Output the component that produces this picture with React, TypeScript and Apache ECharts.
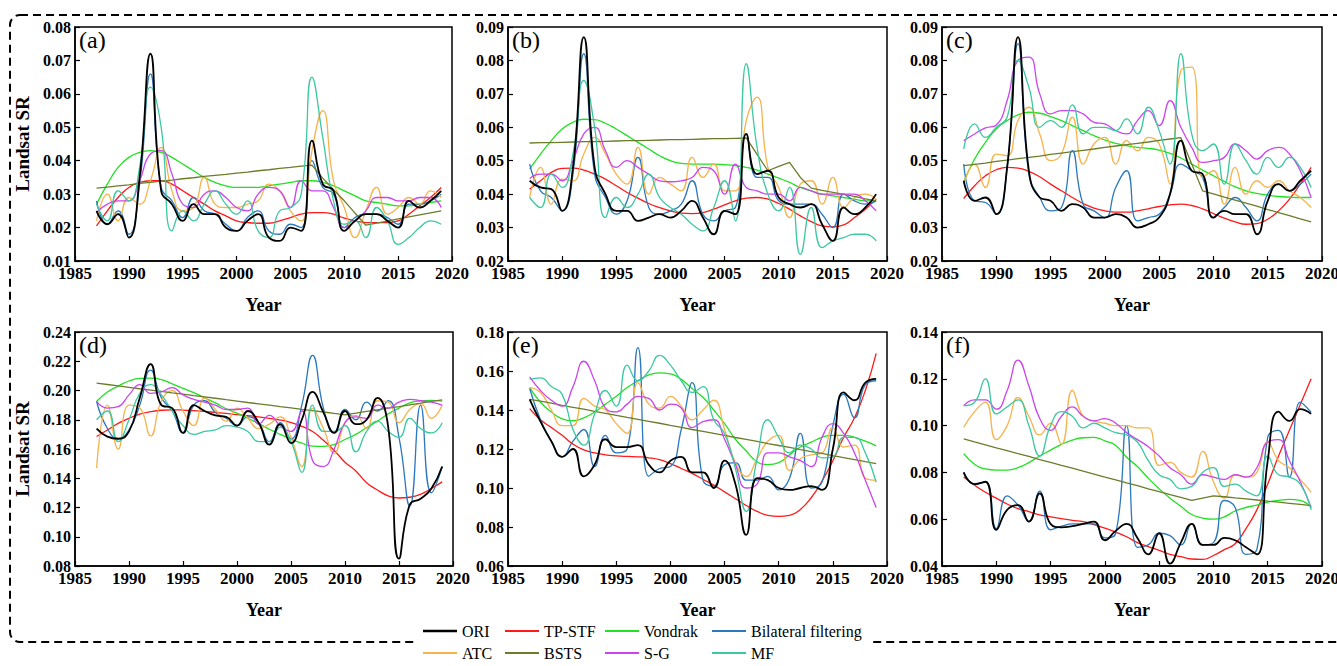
import React, { useEffect, useRef } from "react";
import * as echarts from "echarts";

const YEARS = [1987, 1988, 1989, 1990, 1991, 1992, 1993, 1994, 1995, 1996, 1997, 1998, 1999, 2000, 2001, 2002, 2003, 2004, 2005, 2006, 2007, 2008, 2009, 2010, 2011, 2012, 2013, 2014, 2015, 2016, 2017, 2018, 2019];

const SERIES_NAMES = ["ORI", "TP-STF", "Vondrak", "Bilateral filtering", "ATC", "BSTS", "S-G", "MF"];
const SERIES_COLORS = ["#000000", "#ff1a1a", "#22e022", "#2a78bd", "#f7b34c", "#6b7d2a", "#cc44ee", "#3cc8a0"];

const PANEL_LABELS = ["(a)", "(b)", "(c)", "(d)", "(e)", "(f)"];
const Y_MIN = [0.01, 0.02, 0.02, 0.08, 0.06, 0.04];
const Y_MAX = [0.08, 0.09, 0.09, 0.24, 0.18, 0.14];
const Y_STEP = [0.01, 0.01, 0.01, 0.02, 0.02, 0.02];
const X_MIN = 1985;
const X_MAX = 2020;
const X_STEP = 5;

// ---- panel (a)
const oriA = [0.025, 0.021, 0.024, 0.017, 0.035, 0.072, 0.031, 0.027, 0.022, 0.027, 0.024, 0.024, 0.020, 0.019, 0.022, 0.024, 0.017, 0.016, 0.020, 0.019, 0.046, 0.033, 0.031, 0.019, 0.022, 0.024, 0.024, 0.022, 0.020, 0.028, 0.026, 0.028, 0.031];
const tpA = [0.0205, 0.025, 0.029, 0.032, 0.0335, 0.034, 0.034, 0.033, 0.031, 0.029, 0.027, 0.025, 0.0235, 0.022, 0.0215, 0.0213, 0.0213, 0.022, 0.023, 0.024, 0.0245, 0.0245, 0.024, 0.0228, 0.022, 0.0215, 0.0215, 0.0215, 0.022, 0.024, 0.0265, 0.029, 0.032];
const vondA = [0.027, 0.033, 0.038, 0.041, 0.0425, 0.043, 0.0425, 0.041, 0.039, 0.037, 0.035, 0.0335, 0.0325, 0.032, 0.032, 0.032, 0.0325, 0.033, 0.0335, 0.034, 0.034, 0.0335, 0.0325, 0.031, 0.0295, 0.028, 0.0275, 0.027, 0.0265, 0.0265, 0.027, 0.0275, 0.028];
const blueA = [0.028, 0.021, 0.025, 0.018, 0.033, 0.066, 0.032, 0.028, 0.023, 0.029, 0.025, 0.024, 0.021, 0.019, 0.023, 0.025, 0.019, 0.018, 0.021, 0.020, 0.040, 0.032, 0.030, 0.020, 0.023, 0.024, 0.024, 0.023, 0.021, 0.027, 0.027, 0.028, 0.030];
const atcA = [0.022, 0.030, 0.022, 0.029, 0.027, 0.034, 0.044, 0.031, 0.025, 0.026, 0.035, 0.027, 0.026, 0.026, 0.027, 0.028, 0.033, 0.031, 0.025, 0.022, 0.043, 0.055, 0.034, 0.026, 0.017, 0.025, 0.032, 0.024, 0.026, 0.029, 0.027, 0.031, 0.029];
const bstsA = [0.0318, 0.0321, 0.0325, 0.0328, 0.0332, 0.0335, 0.0339, 0.0342, 0.0346, 0.0349, 0.0353, 0.0356, 0.0359, 0.0363, 0.0366, 0.0370, 0.0373, 0.0377, 0.0380, 0.0384, 0.0387, 0.0348, 0.0313, 0.028, 0.0243, 0.0207, 0.0213, 0.0219, 0.0226, 0.0232, 0.0238, 0.0244, 0.0250];
const sgA = [0.0245, 0.027, 0.028, 0.028, 0.034, 0.042, 0.043, 0.036, 0.027, 0.026, 0.030, 0.031, 0.029, 0.026, 0.025, 0.030, 0.032, 0.031, 0.026, 0.034, 0.031, 0.031, 0.026, 0.020, 0.022, 0.025, 0.029, 0.029, 0.028, 0.028, 0.029, 0.029, 0.026];
const mfA = [0.027, 0.022, 0.031, 0.028, 0.038, 0.062, 0.050, 0.019, 0.025, 0.022, 0.027, 0.031, 0.027, 0.024, 0.028, 0.019, 0.017, 0.025, 0.026, 0.030, 0.065, 0.047, 0.028, 0.021, 0.022, 0.017, 0.026, 0.022, 0.015, 0.017, 0.020, 0.022, 0.021];

// ---- panel (b)
const oriB = [0.044, 0.042, 0.0415, 0.035, 0.048, 0.087, 0.048, 0.040, 0.035, 0.035, 0.032, 0.033, 0.034, 0.033, 0.035, 0.038, 0.033, 0.028, 0.035, 0.034, 0.058, 0.046, 0.047, 0.039, 0.037, 0.036, 0.037, 0.031, 0.026, 0.036, 0.034, 0.036, 0.040];
const tpB = [0.0415, 0.044, 0.0465, 0.0477, 0.0478, 0.0472, 0.046, 0.0445, 0.0425, 0.0405, 0.0388, 0.0372, 0.036, 0.035, 0.0343, 0.0342, 0.0345, 0.0355, 0.0368, 0.038, 0.0388, 0.039, 0.0385, 0.0372, 0.0355, 0.0335, 0.0318, 0.0305, 0.0302, 0.0308, 0.033, 0.0355, 0.0385];
const vondB = [0.0475, 0.052, 0.056, 0.0595, 0.0615, 0.0624, 0.0623, 0.0612, 0.0595, 0.0575, 0.0555, 0.0535, 0.0515, 0.050, 0.0492, 0.049, 0.049, 0.049, 0.0488, 0.0485, 0.048, 0.0472, 0.046, 0.0448, 0.0435, 0.042, 0.041, 0.040, 0.0395, 0.039, 0.0385, 0.038, 0.038];
const blueB = [0.049, 0.041, 0.039, 0.035, 0.046, 0.082, 0.046, 0.039, 0.034, 0.038, 0.051, 0.036, 0.034, 0.035, 0.037, 0.044, 0.034, 0.032, 0.035, 0.036, 0.058, 0.045, 0.045, 0.038, 0.037, 0.037, 0.037, 0.034, 0.030, 0.040, 0.038, 0.037, 0.038];
const atcB = [0.039, 0.048, 0.037, 0.0445, 0.044, 0.052, 0.057, 0.052, 0.046, 0.043, 0.054, 0.040, 0.045, 0.043, 0.041, 0.051, 0.045, 0.049, 0.041, 0.041, 0.062, 0.069, 0.048, 0.042, 0.033, 0.043, 0.044, 0.037, 0.045, 0.036, 0.039, 0.040, 0.0385];
const bstsB = [0.0553, 0.0554, 0.0554, 0.0555, 0.0556, 0.0557, 0.0557, 0.0558, 0.0559, 0.0560, 0.0560, 0.0561, 0.0562, 0.0563, 0.0563, 0.0564, 0.0565, 0.0566, 0.0566, 0.0567, 0.0568, 0.0519, 0.047, 0.0483, 0.0495, 0.045, 0.0418, 0.0411, 0.0405, 0.0399, 0.0393, 0.0386, 0.038];
const sgB = [0.0447, 0.046, 0.046, 0.044, 0.050, 0.058, 0.060, 0.053, 0.048, 0.050, 0.048, 0.046, 0.044, 0.0437, 0.044, 0.045, 0.048, 0.047, 0.040, 0.049, 0.042, 0.041, 0.040, 0.040, 0.038, 0.042, 0.041, 0.040, 0.040, 0.040, 0.040, 0.038, 0.035];
const mfB = [0.039, 0.036, 0.046, 0.042, 0.052, 0.074, 0.060, 0.033, 0.039, 0.036, 0.040, 0.046, 0.039, 0.036, 0.034, 0.031, 0.029, 0.036, 0.044, 0.032, 0.079, 0.054, 0.040, 0.035, 0.042, 0.022, 0.036, 0.024, 0.026, 0.027, 0.028, 0.028, 0.026];

// ---- panel (c)
const oriC = [0.044, 0.038, 0.039, 0.034, 0.048, 0.087, 0.047, 0.039, 0.038, 0.035, 0.037, 0.036, 0.033, 0.033, 0.034, 0.033, 0.030, 0.031, 0.033, 0.040, 0.056, 0.047, 0.046, 0.033, 0.035, 0.034, 0.034, 0.028, 0.038, 0.043, 0.041, 0.044, 0.047];
const tpC = [0.0387, 0.0425, 0.0455, 0.0473, 0.048, 0.0478, 0.0468, 0.0452, 0.043, 0.041, 0.039, 0.0372, 0.0358, 0.035, 0.0346, 0.0346, 0.035, 0.0356, 0.0363, 0.0368, 0.037, 0.0366, 0.0356, 0.0342, 0.0328, 0.0317, 0.031, 0.0312, 0.0325, 0.035, 0.0385, 0.043, 0.048];
const vondC = [0.0437, 0.0505, 0.0555, 0.0595, 0.062, 0.0637, 0.0645, 0.0642, 0.0632, 0.062, 0.0605, 0.059, 0.0575, 0.0562, 0.0552, 0.0545, 0.054, 0.0537, 0.0532, 0.0522, 0.0508, 0.049, 0.0472, 0.0455, 0.0438, 0.0422, 0.041, 0.0402, 0.0397, 0.0393, 0.0391, 0.039, 0.039];
const blueC = [0.049, 0.038, 0.0375, 0.034, 0.048, 0.085, 0.046, 0.039, 0.035, 0.036, 0.053, 0.037, 0.035, 0.033, 0.042, 0.047, 0.032, 0.033, 0.034, 0.040, 0.049, 0.047, 0.045, 0.033, 0.036, 0.039, 0.036, 0.032, 0.040, 0.043, 0.041, 0.043, 0.046];
const atcC = [0.043, 0.049, 0.042, 0.052, 0.0515, 0.062, 0.066, 0.058, 0.050, 0.052, 0.063, 0.049, 0.055, 0.057, 0.049, 0.056, 0.053, 0.057, 0.055, 0.043, 0.077, 0.078, 0.045, 0.047, 0.037, 0.048, 0.040, 0.044, 0.042, 0.044, 0.041, 0.039, 0.036];
const bstsC = [0.0485, 0.0489, 0.0493, 0.0498, 0.0502, 0.0506, 0.0510, 0.0514, 0.0519, 0.0523, 0.0527, 0.0531, 0.0535, 0.0540, 0.0544, 0.0548, 0.0552, 0.0556, 0.0561, 0.0565, 0.0569, 0.049, 0.041, 0.0401, 0.0391, 0.0382, 0.0373, 0.0364, 0.0354, 0.0345, 0.0336, 0.0326, 0.0317];
const sgC = [0.056, 0.058, 0.0598, 0.0607, 0.068, 0.080, 0.081, 0.070, 0.064, 0.065, 0.065, 0.064, 0.0615, 0.061, 0.059, 0.058, 0.062, 0.065, 0.0605, 0.068, 0.060, 0.054, 0.0495, 0.050, 0.051, 0.055, 0.053, 0.0505, 0.053, 0.054, 0.052, 0.047, 0.039];
const mfC = [0.0535, 0.061, 0.057, 0.060, 0.063, 0.080, 0.072, 0.060, 0.062, 0.060, 0.0667, 0.058, 0.060, 0.060, 0.059, 0.0625, 0.058, 0.066, 0.059, 0.049, 0.082, 0.058, 0.053, 0.055, 0.043, 0.055, 0.050, 0.046, 0.051, 0.048, 0.051, 0.048, 0.042];

// ---- panel (d)
const oriD = [0.174, 0.1685, 0.167, 0.172, 0.195, 0.218, 0.190, 0.188, 0.171, 0.190, 0.186, 0.183, 0.182, 0.176, 0.186, 0.178, 0.163, 0.177, 0.164, 0.180, 0.199, 0.185, 0.171, 0.186, 0.177, 0.180, 0.195, 0.175, 0.085, 0.122, 0.126, 0.133, 0.148];
const tpD = [0.1685, 0.173, 0.1775, 0.181, 0.1838, 0.1855, 0.1865, 0.1868, 0.1866, 0.1862, 0.1857, 0.185, 0.1843, 0.1835, 0.1828, 0.182, 0.181, 0.1798, 0.178, 0.1755, 0.172, 0.166, 0.159, 0.151, 0.145, 0.137, 0.132, 0.128, 0.1265, 0.127, 0.129, 0.133, 0.1375];
const vondD = [0.1925, 0.199, 0.203, 0.2065, 0.2083, 0.2085, 0.2075, 0.2045, 0.2015, 0.1985, 0.195, 0.1915, 0.1875, 0.1845, 0.181, 0.1775, 0.1735, 0.170, 0.1668, 0.164, 0.162, 0.1618, 0.163, 0.1665, 0.170, 0.1745, 0.179, 0.184, 0.188, 0.1915, 0.193, 0.1932, 0.1928];
const blueD = [0.1925, 0.174, 0.167, 0.173, 0.190, 0.214, 0.195, 0.186, 0.171, 0.190, 0.193, 0.185, 0.181, 0.176, 0.182, 0.178, 0.165, 0.178, 0.167, 0.190, 0.224, 0.188, 0.171, 0.187, 0.180, 0.192, 0.186, 0.193, 0.168, 0.121, 0.190, 0.130, 0.148];
const atcD = [0.147, 0.190, 0.160, 0.190, 0.188, 0.169, 0.193, 0.200, 0.186, 0.176, 0.195, 0.187, 0.179, 0.188, 0.181, 0.174, 0.177, 0.182, 0.168, 0.148, 0.188, 0.174, 0.157, 0.178, 0.183, 0.174, 0.193, 0.192, 0.178, 0.187, 0.191, 0.181, 0.190];
const bstsD = [0.205, 0.2041, 0.2031, 0.2022, 0.2012, 0.2003, 0.1994, 0.1984, 0.1975, 0.1965, 0.1956, 0.1947, 0.1937, 0.1928, 0.1918, 0.1909, 0.19, 0.189, 0.1881, 0.1871, 0.1862, 0.1853, 0.1843, 0.1834, 0.1845, 0.1857, 0.1868, 0.1879, 0.189, 0.1902, 0.1913, 0.1925, 0.1936];
const sgD = [0.1925, 0.188, 0.189, 0.197, 0.204, 0.198, 0.199, 0.202, 0.197, 0.194, 0.192, 0.190, 0.187, 0.187, 0.188, 0.177, 0.183, 0.176, 0.172, 0.186, 0.152, 0.148, 0.160, 0.178, 0.182, 0.181, 0.190, 0.188, 0.192, 0.194, 0.193, 0.192, 0.190];
const mfD = [0.180, 0.186, 0.165, 0.180, 0.198, 0.204, 0.197, 0.186, 0.176, 0.170, 0.172, 0.173, 0.176, 0.175, 0.172, 0.165, 0.165, 0.175, 0.165, 0.144, 0.190, 0.172, 0.172, 0.176, 0.158, 0.172, 0.179, 0.172, 0.168, 0.181, 0.174, 0.171, 0.178];

// ---- panel (e)
const oriE = [0.1455, 0.134, 0.124, 0.116, 0.120, 0.106, 0.112, 0.125, 0.121, 0.121, 0.122, 0.112, 0.108, 0.114, 0.116, 0.108, 0.108, 0.100, 0.114, 0.102, 0.076, 0.105, 0.104, 0.100, 0.099, 0.100, 0.101, 0.099, 0.120, 0.149, 0.145, 0.154, 0.156];
const tpE = [0.1407, 0.135, 0.131, 0.127, 0.1225, 0.1195, 0.118, 0.117, 0.1165, 0.1162, 0.116, 0.1155, 0.1145, 0.1125, 0.110, 0.1075, 0.1045, 0.1015, 0.098, 0.0945, 0.091, 0.088, 0.086, 0.0855, 0.086, 0.089, 0.095, 0.1036, 0.114, 0.126, 0.136, 0.150, 0.169];
const vondE = [0.1515, 0.144, 0.139, 0.1355, 0.1345, 0.136, 0.139, 0.143, 0.147, 0.1515, 0.155, 0.158, 0.159, 0.1585, 0.1557, 0.151, 0.1465, 0.140, 0.133, 0.125, 0.119, 0.1135, 0.112, 0.113, 0.117, 0.121, 0.1235, 0.126, 0.127, 0.127, 0.126, 0.124, 0.1216];
const blueE = [0.151, 0.135, 0.124, 0.116, 0.124, 0.130, 0.111, 0.127, 0.118, 0.120, 0.172, 0.106, 0.110, 0.111, 0.130, 0.154, 0.104, 0.101, 0.112, 0.113, 0.104, 0.104, 0.106, 0.099, 0.105, 0.128, 0.100, 0.103, 0.132, 0.148, 0.136, 0.153, 0.155];
const atcE = [0.1515, 0.149, 0.140, 0.132, 0.132, 0.146, 0.142, 0.140, 0.133, 0.128, 0.154, 0.143, 0.141, 0.147, 0.142, 0.135, 0.140, 0.145, 0.130, 0.113, 0.106, 0.115, 0.124, 0.127, 0.109, 0.115, 0.117, 0.118, 0.131, 0.121, 0.122, 0.105, 0.104];
const bstsE = [0.1455, 0.1445, 0.1435, 0.1424, 0.1414, 0.1404, 0.1393, 0.1383, 0.1373, 0.1362, 0.1352, 0.1342, 0.1332, 0.1321, 0.1311, 0.1300, 0.1290, 0.1280, 0.1270, 0.1259, 0.1249, 0.1239, 0.1228, 0.1218, 0.1208, 0.1197, 0.1187, 0.1177, 0.1166, 0.1156, 0.1146, 0.1135, 0.1125];
const sgE = [0.157, 0.150, 0.145, 0.142, 0.152, 0.165, 0.155, 0.141, 0.139, 0.143, 0.147, 0.146, 0.140, 0.143, 0.141, 0.131, 0.134, 0.135, 0.125, 0.112, 0.100, 0.102, 0.118, 0.118, 0.116, 0.114, 0.111, 0.126, 0.133, 0.128, 0.118, 0.104, 0.090];
const mfE = [0.1557, 0.1565, 0.152, 0.148, 0.130, 0.122, 0.138, 0.150, 0.142, 0.163, 0.155, 0.160, 0.168, 0.163, 0.155, 0.149, 0.152, 0.135, 0.128, 0.110, 0.088, 0.115, 0.135, 0.126, 0.118, 0.122, 0.120, 0.1155, 0.116, 0.126, 0.126, 0.118, 0.103];

// ---- panel (f)
const oriF = [0.080, 0.075, 0.076, 0.0555, 0.064, 0.066, 0.059, 0.071, 0.058, 0.0565, 0.057, 0.058, 0.059, 0.051, 0.055, 0.058, 0.052, 0.045, 0.054, 0.041, 0.050, 0.058, 0.049, 0.049, 0.052, 0.051, 0.048, 0.045, 0.085, 0.106, 0.102, 0.107, 0.105];
const tpF = [0.078, 0.0745, 0.0715, 0.069, 0.0665, 0.0645, 0.0632, 0.0618, 0.061, 0.0602, 0.0595, 0.059, 0.0577, 0.0562, 0.0545, 0.0525, 0.050, 0.0483, 0.0467, 0.045, 0.044, 0.043, 0.0428, 0.0445, 0.047, 0.0495, 0.056, 0.064, 0.075, 0.087, 0.098, 0.109, 0.12];
const vondF = [0.088, 0.0835, 0.0815, 0.081, 0.081, 0.082, 0.0842, 0.087, 0.0895, 0.092, 0.0938, 0.0948, 0.095, 0.0935, 0.0915, 0.0865, 0.0825, 0.0775, 0.073, 0.069, 0.0655, 0.062, 0.0605, 0.060, 0.061, 0.0635, 0.065, 0.066, 0.0673, 0.068, 0.0685, 0.068, 0.065];
const blueF = [0.080, 0.075, 0.076, 0.056, 0.070, 0.066, 0.059, 0.072, 0.0555, 0.057, 0.058, 0.058, 0.058, 0.052, 0.054, 0.100, 0.048, 0.049, 0.054, 0.053, 0.049, 0.058, 0.049, 0.050, 0.068, 0.065, 0.045, 0.047, 0.095, 0.098, 0.078, 0.110, 0.1057];
const atcF = [0.0993, 0.106, 0.110, 0.094, 0.100, 0.112, 0.104, 0.096, 0.101, 0.092, 0.115, 0.104, 0.102, 0.101, 0.100, 0.100, 0.099, 0.099, 0.083, 0.0843, 0.080, 0.078, 0.089, 0.076, 0.069, 0.079, 0.078, 0.080, 0.093, 0.085, 0.082, 0.077, 0.0715];
const bstsF = [0.0943, 0.093, 0.0918, 0.0905, 0.0893, 0.088, 0.0868, 0.0855, 0.0843, 0.083, 0.0818, 0.0805, 0.0793, 0.078, 0.0768, 0.0755, 0.0743, 0.073, 0.0718, 0.0705, 0.0693, 0.068, 0.069, 0.070, 0.0696, 0.0691, 0.0687, 0.0682, 0.0677, 0.0673, 0.0668, 0.0663, 0.0658];
const sgF = [0.1085, 0.111, 0.111, 0.107, 0.115, 0.128, 0.117, 0.103, 0.098, 0.104, 0.108, 0.104, 0.102, 0.103, 0.101, 0.097, 0.094, 0.091, 0.087, 0.082, 0.079, 0.075, 0.079, 0.078, 0.077, 0.079, 0.078, 0.082, 0.093, 0.094, 0.085, 0.076, 0.065];
const mfF = [0.1085, 0.110, 0.120, 0.105, 0.108, 0.111, 0.100, 0.087, 0.100, 0.106, 0.104, 0.099, 0.101, 0.099, 0.097, 0.096, 0.093, 0.085, 0.079, 0.077, 0.073, 0.074, 0.080, 0.082, 0.074, 0.075, 0.072, 0.070, 0.087, 0.079, 0.078, 0.075, 0.064];

const PANEL_SERIES = [
  [oriA, tpA, vondA, blueA, atcA, bstsA, sgA, mfA],
  [oriB, tpB, vondB, blueB, atcB, bstsB, sgB, mfB],
  [oriC, tpC, vondC, blueC, atcC, bstsC, sgC, mfC],
  [oriD, tpD, vondD, blueD, atcD, bstsD, sgD, mfD],
  [oriE, tpE, vondE, blueE, atcE, bstsE, sgE, mfE],
  [oriF, tpF, vondF, blueF, atcF, bstsF, sgF, mfF],
];

const FONT = "Liberation Serif";

const GRID_POS = [
  { left: 75, top: 27, width: 377, height: 234 },
  { left: 508, top: 27, width: 379, height: 234 },
  { left: 942, top: 27, width: 380, height: 234 },
  { left: 75, top: 332, width: 378, height: 234 },
  { left: 508, top: 332, width: 379, height: 234 },
  { left: 942, top: 332, width: 380, height: 234 },
];

const LEGEND_COLS = [423, 505, 605, 712];
const LEGEND_ROWS = [623, 645];

function buildOption() {
  const grid = GRID_POS.map((g) => ({
    ...g,
    show: true,
    borderColor: "#000",
    borderWidth: 1.5,
    backgroundColor: "transparent",
    containLabel: false,
    outerBoundsMode: "none",
  }));

  const axisLine = { show: true, onZero: false, lineStyle: { color: "#000", width: 1.5 } };
  const axisTick = { show: true, inside: true, length: 5, lineStyle: { color: "#000", width: 1.2 } };

  const xAxis = GRID_POS.map((_, i) => ({
    gridIndex: i,
    type: "value",
    min: X_MIN,
    max: X_MAX,
    interval: X_STEP,
    name: "Year",
    nameLocation: "middle",
    nameGap: 35,
    nameMoveOverlap: false,
    nameTextStyle: { fontFamily: FONT, fontWeight: "bold", fontSize: 18, color: "#000" },
    axisLine,
    axisTick,
    axisLabel: {
      fontFamily: FONT,
      fontWeight: "bold",
      fontSize: 17,
      color: "#000",
      margin: 4,
      showMinLabel: true,
      showMaxLabel: true,
      hideOverlap: false,
      formatter: (v: number) => String(v),
    },
    splitLine: { show: false },
  }));

  const yAxis = GRID_POS.map((_, i) => ({
    gridIndex: i,
    type: "value",
    min: Y_MIN[i],
    max: Y_MAX[i],
    interval: Y_STEP[i],
    name: i % 3 === 0 ? "Landsat SR" : "",
    nameLocation: "middle",
    nameGap: 43,
    nameMoveOverlap: false,
    nameTextStyle: { fontFamily: FONT, fontWeight: "bold", fontSize: 19, color: "#000" },
    axisLine,
    axisTick,
    axisLabel: {
      fontFamily: FONT,
      fontWeight: "bold",
      fontSize: 16,
      color: "#000",
      margin: 4,
      showMinLabel: true,
      showMaxLabel: true,
      hideOverlap: false,
      formatter: (v: number) => v.toFixed(2),
    },
    splitLine: { show: false },
  }));

  const series: any[] = [];
  PANEL_SERIES.forEach((list, p) => {
    list.forEach((arr, k) => {
      series.push({
        name: SERIES_NAMES[k],
        type: "line",
        xAxisIndex: p,
        yAxisIndex: p,
        data: YEARS.map((yr, j) => [yr, arr[j]]),
        smooth: SERIES_NAMES[k] === "BSTS" ? false : 0.5,
        showSymbol: false,
        symbol: "none",
        color: SERIES_COLORS[k],
        lineStyle: { color: SERIES_COLORS[k], width: k === 0 ? 1.8 : 1.3 },
        z: k === 0 ? 3 : 2,
      });
    });
  });

  const legend = SERIES_NAMES.map((n, k) => ({
    data: [n],
    left: LEGEND_COLS[k % 4],
    top: LEGEND_ROWS[Math.floor(k / 4)],
    orient: "horizontal",
    icon: "rect",
    itemWidth: 34,
    itemHeight: k === 0 ? 2.5 : 2,
    itemGap: 0,
    padding: 0,
    selectedMode: false,
    textStyle: { fontFamily: FONT, fontSize: 16, color: "#000" },
  }));

  const title = PANEL_LABELS.map((t, i) => ({
    text: t,
    left: GRID_POS[i].left + 4,
    top: GRID_POS[i].top + 1,
    padding: 0,
    textStyle: { fontFamily: FONT, fontSize: 24, fontWeight: "normal", color: "#000" },
  }));

  return {
    animation: false,
    backgroundColor: "#fff",
    title,
    legend,
    grid,
    xAxis,
    yAxis,
    series,
    graphic: {
      elements: [
        {
          type: "rect",
          silent: true,
          z: 0,
          shape: { x: 10, y: 15, width: 1360, height: 627, r: 10 },
          style: { fill: "none", stroke: "#000", lineWidth: 2, lineDash: [8, 5] },
        },
        {
          type: "rect",
          silent: true,
          z: 1,
          shape: { x: 418, y: 634, width: 451, height: 14 },
          style: { fill: "#fff" },
        },
      ],
    },
  };
}

export default function App() {
  const ref = useRef<HTMLDivElement>(null);
  useEffect(() => {
    if (!ref.current) return;
    const chart = echarts.init(ref.current, undefined, { renderer: "svg" });
    chart.setOption(buildOption() as any);
    return () => chart.dispose();
  }, []);
  return (
    <div
      ref={ref}
      style={{ position: "fixed", left: 0, top: 0, width: 1337, height: 666, background: "#fff" }}
    />
  );
}
